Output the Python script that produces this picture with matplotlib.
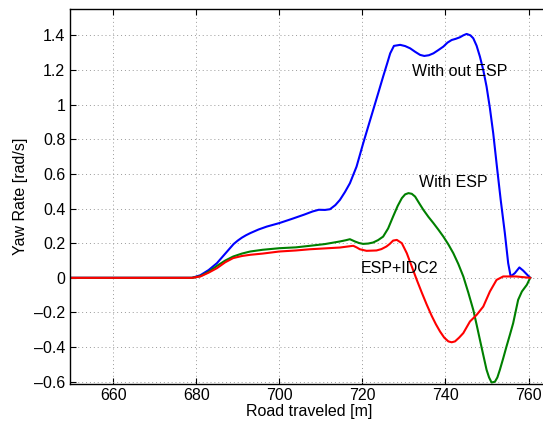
import matplotlib
matplotlib.use("Agg")
import matplotlib.pyplot as plt
from matplotlib.ticker import FuncFormatter, MultipleLocator

plt.rcParams['font.family'] = ['Liberation Sans', 'DejaVu Sans']

blue_x = [650, 679, 681, 683, 685, 687, 689, 690, 691, 692, 693, 695, 697, 700, 703, 706, 708, 709.5, 711,
          712.2, 713.5, 714.6, 715.8, 717, 718.6, 720.2, 721.4, 722.6, 723.8, 725, 726, 726.7, 727.6, 729.1,
          730.3, 731.5, 732.7, 733.9, 734.9, 736, 737.1, 738.3, 739.5, 740.5, 741.5, 742.5, 743.5, 744.3,
          745.1, 746, 746.7, 747.5, 748.3, 749.1, 749.9, 750.7, 751.5, 752.4, 753.3, 754.3, 755.1, 755.7,
          756.7, 757.8, 758.7, 760.4]
blue_y = [0, 0, 0.015, 0.045, 0.085, 0.14, 0.195, 0.215, 0.232, 0.246, 0.258, 0.279, 0.296, 0.316, 0.34,
          0.365, 0.383, 0.393, 0.392, 0.396, 0.42, 0.45, 0.495, 0.546, 0.642, 0.777, 0.873, 0.969, 1.065,
          1.162, 1.24, 1.296, 1.339, 1.345, 1.338, 1.325, 1.305, 1.287, 1.281, 1.285, 1.296, 1.315, 1.335,
          1.358, 1.373, 1.38, 1.389, 1.40, 1.408, 1.40, 1.383, 1.34, 1.277, 1.2, 1.104, 0.98, 0.835, 0.64,
          0.45, 0.258, 0.085, 0.008, 0.027, 0.06, 0.042, 0.0]

green_x = [650, 679, 681, 683, 685, 687, 688.9, 691, 693, 696, 700, 704, 707.4, 711, 714.6, 716, 717,
           718.2, 719.2, 720.2, 721.4, 722.6, 723.8, 725, 726.2, 727.4, 728.5, 729.5, 730.3, 731.1, 731.9,
           732.7, 733.7, 734.7, 735.9, 737.1, 738.3, 739.5, 740.7, 741.9, 743.1, 744.3, 745.5, 746.7, 747.5,
           748.3, 749.1, 749.9, 750.5, 751.1, 751.9, 752.5, 753.1, 753.9, 754.7, 755.5, 756.3, 757.5, 758.4,
           759.6, 760.4]
green_y = [0, 0, 0.01, 0.035, 0.069, 0.1, 0.123, 0.14, 0.152, 0.162, 0.171, 0.176, 0.185, 0.195, 0.21,
           0.217, 0.223, 0.21, 0.201, 0.196, 0.198, 0.204, 0.218, 0.238, 0.285, 0.354, 0.415, 0.46, 0.482,
           0.489, 0.485, 0.469, 0.43, 0.392, 0.352, 0.316, 0.278, 0.238, 0.193, 0.142, 0.08, 0.008, -0.085,
           -0.185, -0.27, -0.358, -0.445, -0.531, -0.575, -0.604, -0.6, -0.575, -0.531, -0.465, -0.396,
           -0.33, -0.262, -0.127, -0.079, -0.04, 0.0]

red_x = [650, 679, 681, 683, 685, 687, 688.9, 691, 693, 696, 700, 704, 707.4, 711, 714.6, 717.8, 718.6,
         719.4, 721, 723.4, 724.6, 725.8, 726.6, 727.4, 728.3, 729.5, 730.7, 731.9, 733.1, 734.3, 735.5,
         736.7, 737.7, 738.7, 739.7, 740.7, 741.5, 742.3, 743.3, 744.3, 745.9, 747.5, 749.1, 750.7, 752.3,
         753.9, 757, 760.4]
red_y = [0, 0, 0.008, 0.03, 0.056, 0.09, 0.114, 0.126, 0.133, 0.14, 0.152, 0.158, 0.165, 0.17, 0.175,
         0.185, 0.176, 0.165, 0.156, 0.158, 0.166, 0.181, 0.196, 0.215, 0.219, 0.2, 0.142, 0.065, -0.012,
         -0.085, -0.155, -0.22, -0.268, -0.31, -0.345, -0.367, -0.372, -0.367, -0.345, -0.319, -0.252,
         -0.214, -0.166, -0.079, -0.012, 0.008, 0.008, 0.0]

labels = ["With out ESP", "With ESP", "ESP+IDC2"]
label_pos = [(731.9, 1.194), (733.6, 0.55), (719.7, 0.056)]

W, H = 543, 428
fig = plt.figure(figsize=(W / 100, H / 100), dpi=100)
left, right, top, bottom = 69.5, 549.3, 9, 383.5
ax = fig.add_axes([left / W, 1 - bottom / H, (right - left) / W, (bottom - top) / H])

lw = 1.5
ax.plot(blue_x, blue_y, color=(0, 0, 1), lw=lw)
ax.plot(green_x, green_y, color=(0, 0.5, 0), lw=lw)
ax.plot(red_x, red_y, color=(1, 0, 0), lw=lw)

for t, (x, y) in zip(labels, label_pos):
    ax.text(x, y, t, fontsize=11.5, va='center', ha='left')

ax.set_xlim(649.5, 765)
ax.set_ylim(-0.61, 1.552)
ax.xaxis.set_major_locator(MultipleLocator(20))
ax.yaxis.set_major_locator(MultipleLocator(0.2))

def fmt(v, pos):
    s = "%g" % round(v, 6)
    return s.replace("-", "\u2013")

ax.yaxis.set_major_formatter(FuncFormatter(fmt))
ax.xaxis.set_major_formatter(FuncFormatter(fmt))

ax.grid(True, linestyle=(0, (1, 3)), color='#999999', lw=0.7)
ax.tick_params(direction='in', length=4.5, width=0.8, top=True, right=True, labelsize=11.5, pad=3)
for s in ax.spines.values():
    s.set_linewidth(1.0)

ax.set_xlabel("Road traveled [m]", fontsize=11.5, labelpad=1)
ax.set_ylabel("Yaw Rate [rad/s]", fontsize=11.5, labelpad=4)

fig.savefig("out.png", dpi=100)
